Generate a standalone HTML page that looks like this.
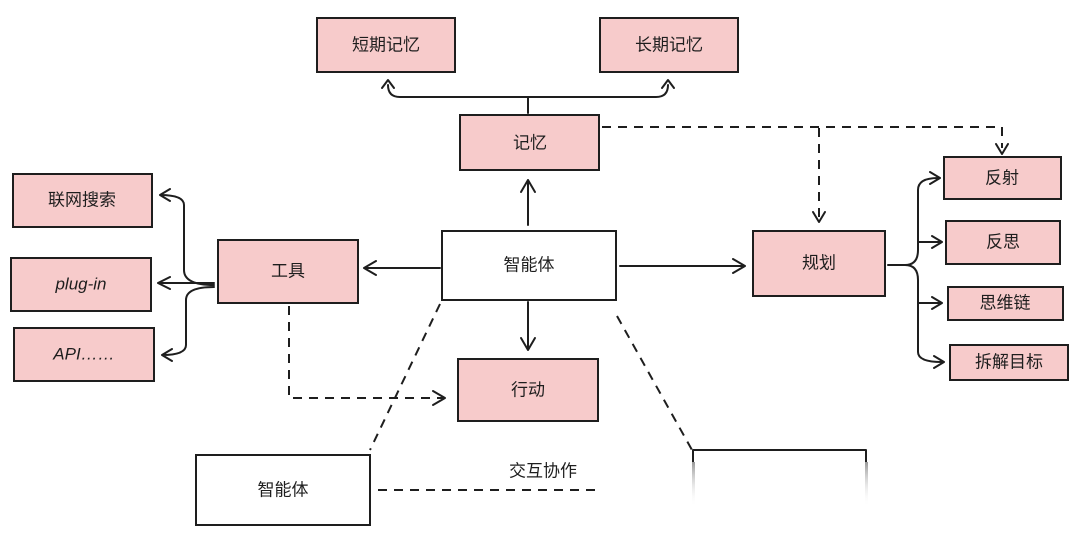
<!DOCTYPE html>
<html><head><meta charset="utf-8"><style>
html,body{margin:0;padding:0;background:#fff;}
svg{display:block}
text{font-family:"Liberation Sans","Noto Sans CJK SC",sans-serif;font-size:17px;fill:#1e1e1e;text-anchor:middle;dominant-baseline:central}
.b{fill:#f7cbcb;stroke:#1e1e1e;stroke-width:2}
.w{fill:#fff;stroke:#1e1e1e;stroke-width:2}
.l{fill:none;stroke:#1e1e1e;stroke-width:2;stroke-linecap:round;stroke-linejoin:round}
.d{fill:none;stroke:#1e1e1e;stroke-width:2;stroke-dasharray:9 7}
</style></head><body>
<svg width="1080" height="543" viewBox="0 0 1080 543">
<defs><linearGradient id="fd" x1="0" y1="0" x2="0" y2="1"><stop offset="0" stop-color="#999"/><stop offset="1" stop-color="#fff" stop-opacity="0"/></linearGradient></defs>
<rect class="b" x="317" y="18" width="138" height="54"/><text x="386" y="45">短期记忆</text>
<rect class="b" x="600" y="18" width="138" height="54"/><text x="669" y="45">长期记忆</text>
<rect class="b" x="460" y="115" width="139" height="55"/><text x="530" y="143">记忆</text>
<rect class="b" x="13" y="174" width="139" height="53"/><text x="82" y="200">联网搜索</text>
<rect class="b" x="11" y="258" width="140" height="53"/><text x="81" y="284" style="font-style:italic">plug-in</text>
<rect class="b" x="14" y="328" width="140" height="53"/><text x="84" y="354" style="font-style:italic">API……</text>
<rect class="b" x="218" y="240" width="140" height="63"/><text x="288" y="271">工具</text>
<rect class="w" x="442" y="231" width="174" height="69"/><text x="529" y="265">智能体</text>
<rect class="b" x="458" y="359" width="140" height="62"/><text x="528" y="390">行动</text>
<rect class="b" x="753" y="231" width="132" height="65"/><text x="819" y="263">规划</text>
<rect class="b" x="944" y="157" width="117" height="42"/><text x="1002" y="178">反射</text>
<rect class="b" x="946" y="221" width="114" height="43"/><text x="1003" y="242">反思</text>
<rect class="b" x="948" y="287" width="115" height="33"/><text x="1005" y="303">思维链</text>
<rect class="b" x="950" y="345" width="118" height="35"/><text x="1009" y="362">拆解目标</text>
<rect class="w" x="196" y="455" width="174" height="70"/><text x="283" y="490">智能体</text>
<!-- memory branching -->
<path class="l" d="M528 113 V97 M388 85 Q388 97 400 97 H656 Q668 97 668 85 M382 88 l6 -8 l6 8 M662 88 l6 -8 l6 8"/>
<path class="l" d="M528 225 V180 M521 192 l7 -12 l7 12"/>
<path class="l" d="M440 268 H364 M376 261 l-12 7 l12 7"/>
<path class="l" d="M620 266 H745 M733 259 l12 7 l-12 7"/>
<path class="l" d="M528 302 V350 M521 338 l7 12 l7 -12"/>
<!-- tool branches -->
<path class="l" d="M214 283 H158 M170 277 l-12 6 l12 6 M214 285 Q184 285 184 270 V205 Q184 195 160 195 M170 189 l-10 6 l10 6 M214 287 Q186 287 186 300 V345 Q186 355 162 355 M172 349 l-10 6 l10 6"/>
<!-- plan branches -->
<path class="l" d="M888 265 H905 Q918 265 918 250 V190 Q918 178 938 178 M930 172 l10 6 l-10 6 M918 242 H940 M932 236 l10 6 l-10 6 M905 265 Q918 265 918 280 V303 H940 M932 297 l10 6 l-10 6 M918 300 V352 Q918 362 942 362 M934 356 l10 6 l-10 6"/>
<!-- dashed -->
<path class="d" d="M602 127 H1002 V148 M819 128 V222"/>
<path class="l" d="M996 144 l6 10 l6 -10 M813 212 l6 10 l6 -10"/>
<path class="d" d="M289 306 V398 H445"/>
<path class="l" d="M433 391 l12 7 l-12 7"/>
<path class="d" d="M440 304 L370 450"/>
<path class="d" d="M617 316 L692 450"/>
<path class="d" d="M378 490 H600"/>
<text x="543" y="471">交互协作</text>
<path class="l" d="M693 462 V450 H866 V462"/>
<rect x="692" y="462" width="3" height="45" fill="url(#fd)"/>
<rect x="865" y="462" width="3" height="45" fill="url(#fd)"/>
</svg>
</body></html>
